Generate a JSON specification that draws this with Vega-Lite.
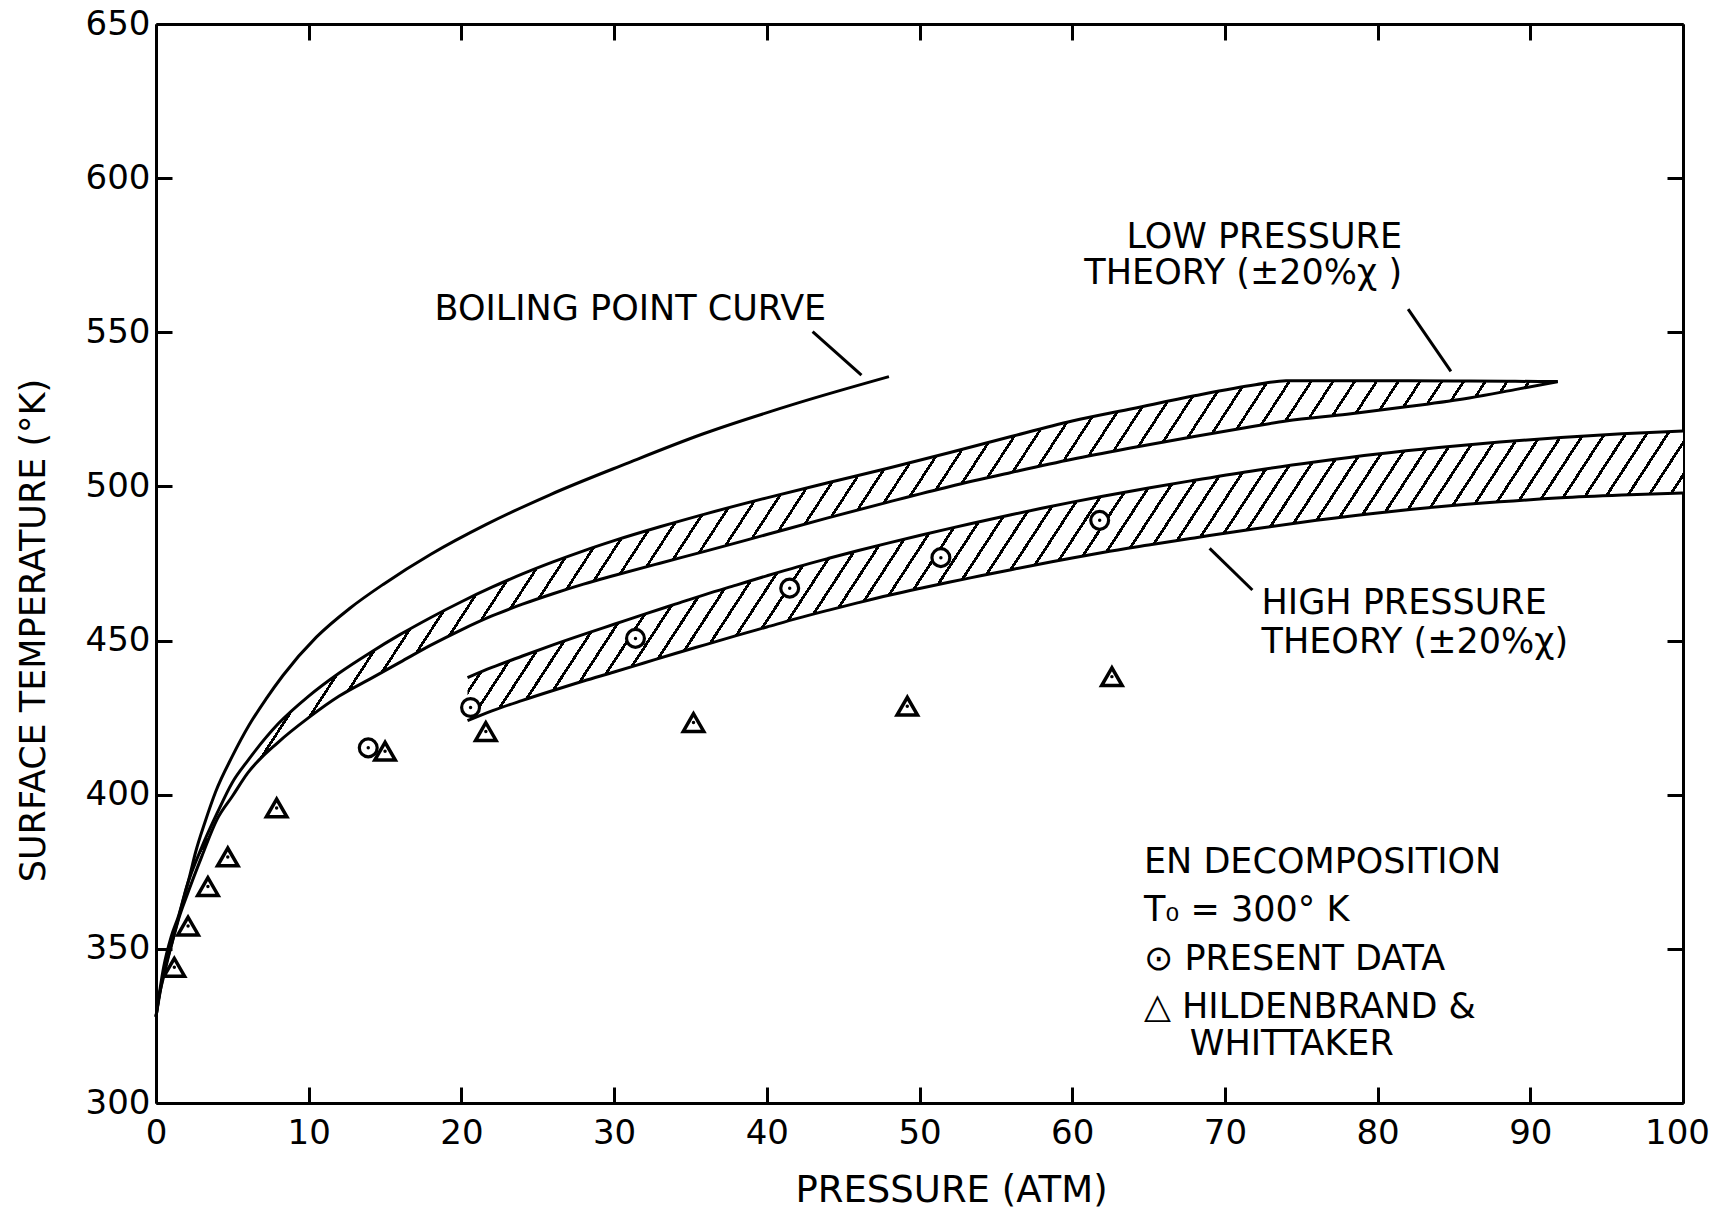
{
"$schema":"https://vega.github.io/schema/vega-lite/v6.json",
"width":1527,"height":1079,
"autosize":{"type":"none"},
"padding":{"left":156,"top":24,"right":29,"bottom":111},
"background":"#ffffff",
"config":{"view":{"stroke":null},"font":"DejaVu Sans"},
"datasets":{
"boil":[{"p":0,"t":328},{"p":0.2,"t":334.6},{"p":0.5,"t":341},{"p":0.8,"t":347.2},{"p":1.2,"t":355},{"p":1.7,"t":364.3},{"p":2.2,"t":373.5},{"p":2.6,"t":381.5},{"p":3.2,"t":391},{"p":3.9,"t":400.9},{"p":5,"t":412.5},{"p":6.1,"t":422.6},{"p":7.2,"t":431},{"p":8.3,"t":438.6},{"p":10.5,"t":451.1},{"p":12.7,"t":460.5},{"p":14.9,"t":468.3},{"p":18,"t":478},{"p":21.6,"t":487.6},{"p":25.8,"t":497.3},{"p":30.8,"t":507.4},{"p":35.8,"t":517},{"p":42,"t":527},{"p":48,"t":535.6}],
"low":[{"p":0,"hi":328,"lo":328},{"p":0.5,"hi":344,"lo":342},{"p":1,"hi":354,"lo":351},{"p":1.5,"hi":361,"lo":360},{"p":2,"hi":370,"lo":367},{"p":3,"hi":383,"lo":380},{"p":4,"hi":394,"lo":392},{"p":5,"hi":404,"lo":399.5},{"p":6,"hi":411,"lo":407},{"p":8,"hi":423,"lo":417},{"p":10,"hi":432,"lo":425},{"p":12,"hi":439.5,"lo":432},{"p":14,"hi":446,"lo":437.5},{"p":16,"hi":452,"lo":443},{"p":18,"hi":457.5,"lo":448.5},{"p":20,"hi":462.6,"lo":453.5},{"p":22,"hi":467.3,"lo":458},{"p":24,"hi":471.6,"lo":461.8},{"p":26,"hi":475.5,"lo":465.2},{"p":28,"hi":479.1,"lo":468.3},{"p":30,"hi":482.4,"lo":471.1},{"p":33,"hi":486.9,"lo":475.1},{"p":36,"hi":491.1,"lo":479},{"p":40,"hi":496.3,"lo":484.4},{"p":44,"hi":501.2,"lo":489.8},{"p":48,"hi":506,"lo":495},{"p":52,"hi":511,"lo":500},{"p":56,"hi":516.2,"lo":504.5},{"p":60,"hi":521.2,"lo":508.8},{"p":64,"hi":525.3,"lo":512.6},{"p":68,"hi":529.4,"lo":516.2},{"p":72,"hi":533,"lo":519.6},{"p":74,"hi":534.3,"lo":521.2},{"p":78,"hi":534.3,"lo":523.4},{"p":82,"hi":534.3,"lo":525.9},{"p":86,"hi":534.2,"lo":528.7},{"p":89,"hi":534.1,"lo":531.4},{"p":91.8,"hi":534,"lo":534}],
"high":[{"p":20.4,"hi":438,"lo":424},{"p":22,"hi":441.3,"lo":427.2},{"p":24,"hi":445,"lo":430.6},{"p":26,"hi":448.6,"lo":433.8},{"p":28,"hi":452,"lo":436.9},{"p":30,"hi":455.3,"lo":439.8},{"p":32,"hi":458.6,"lo":442.8},{"p":34,"hi":461.8,"lo":445.8},{"p":36,"hi":465,"lo":448.7},{"p":38,"hi":468,"lo":451.6},{"p":40,"hi":471,"lo":454.4},{"p":42,"hi":473.9,"lo":457.2},{"p":44,"hi":476.6,"lo":459.8},{"p":46,"hi":479.2,"lo":462.3},{"p":48,"hi":481.7,"lo":464.7},{"p":50,"hi":484.1,"lo":466.9},{"p":52,"hi":486.4,"lo":469},{"p":54,"hi":488.6,"lo":471},{"p":56,"hi":490.8,"lo":473},{"p":58,"hi":492.9,"lo":474.9},{"p":60,"hi":494.9,"lo":476.8},{"p":62,"hi":496.8,"lo":478.6},{"p":65,"hi":499.5,"lo":481},{"p":68,"hi":502,"lo":483.3},{"p":72,"hi":505.2,"lo":486.3},{"p":76,"hi":508,"lo":489},{"p":80,"hi":510.5,"lo":491.4},{"p":84,"hi":512.6,"lo":493.4},{"p":88,"hi":514.4,"lo":495},{"p":92,"hi":515.9,"lo":496.3},{"p":96,"hi":517.1,"lo":497.2},{"p":100,"hi":518,"lo":497.9}],
"present":[{"p":13.9,"t":415.2},{"p":20.6,"t":428.3},{"p":31.4,"t":450.7},{"p":41.5,"t":467},{"p":51.4,"t":476.9},{"p":61.8,"t":489}],
"hw":[{"p":1.2,"t":344},{"p":2.1,"t":357.4},{"p":3.4,"t":370.2},{"p":4.7,"t":379.8},{"p":7.9,"t":395.7},{"p":15,"t":414.1},{"p":21.6,"t":420.5},{"p":35.2,"t":423.4},{"p":49.2,"t":428.7},{"p":62.6,"t":438.3}],
"leaders":[{"p":43,"t":550.2,"p2":46.2,"t2":536.1},{"p":82,"t":557.5,"p2":84.8,"t2":537.3},{"p":69,"t":479.9,"p2":71.8,"t2":466.4}],
"textLeft":[{"p":18.24,"t":557.6,"label":"BOILING POINT CURVE"},{"p":72.4,"t":462.3,"label":"HIGH PRESSURE"},{"p":72.4,"t":449.5,"label":"THEORY (±20%χ)"},{"p":64.7,"t":378.1,"label":"EN DECOMPOSITION"},{"p":64.7,"t":362.5,"label":"T₀ = 300° K"},{"p":64.7,"t":346.8,"label":"⊙ PRESENT DATA"},{"p":64.7,"t":331.1,"label":"△ HILDENBRAND &"},{"p":67.7,"t":319,"label":"WHITTAKER"}],
"textRight":[{"p":81.6,"t":580.9,"label":"LOW PRESSURE"},{"p":81.6,"t":569.2,"label":"THEORY (±20%χ )"}]
},
"layer":[
{"data":{"name":"low"},
 "mark":{"type":"area","interpolate":"monotone","stroke":null,"fill":{"gradient":"linear","x1":0,"y1":0,"x2":1.191,"y2":0.351,"stops":[
{"offset":0,"color":"#000"},{"offset":0.0018,"color":"#000"},{"offset":0.0018,"color":"#fff"},{"offset":0.012,"color":"#fff"},
{"offset":0.012,"color":"#000"},{"offset":0.0138,"color":"#000"},{"offset":0.0138,"color":"#fff"},{"offset":0.024,"color":"#fff"},
{"offset":0.024,"color":"#000"},{"offset":0.0258,"color":"#000"},{"offset":0.0258,"color":"#fff"},{"offset":0.036,"color":"#fff"},
{"offset":0.036,"color":"#000"},{"offset":0.0378,"color":"#000"},{"offset":0.0378,"color":"#fff"},{"offset":0.048,"color":"#fff"},
{"offset":0.048,"color":"#000"},{"offset":0.0498,"color":"#000"},{"offset":0.0498,"color":"#fff"},{"offset":0.06,"color":"#fff"},
{"offset":0.06,"color":"#000"},{"offset":0.0618,"color":"#000"},{"offset":0.0618,"color":"#fff"},{"offset":0.072,"color":"#fff"},
{"offset":0.072,"color":"#000"},{"offset":0.0738,"color":"#000"},{"offset":0.0738,"color":"#fff"},{"offset":0.084,"color":"#fff"},
{"offset":0.084,"color":"#000"},{"offset":0.0858,"color":"#000"},{"offset":0.0858,"color":"#fff"},{"offset":0.096,"color":"#fff"},
{"offset":0.096,"color":"#000"},{"offset":0.0978,"color":"#000"},{"offset":0.0978,"color":"#fff"},{"offset":0.108,"color":"#fff"},
{"offset":0.108,"color":"#000"},{"offset":0.1098,"color":"#000"},{"offset":0.1098,"color":"#fff"},{"offset":0.12,"color":"#fff"},
{"offset":0.12,"color":"#000"},{"offset":0.1218,"color":"#000"},{"offset":0.1218,"color":"#fff"},{"offset":0.132,"color":"#fff"},
{"offset":0.132,"color":"#000"},{"offset":0.1338,"color":"#000"},{"offset":0.1338,"color":"#fff"},{"offset":0.144,"color":"#fff"},
{"offset":0.144,"color":"#000"},{"offset":0.1458,"color":"#000"},{"offset":0.1458,"color":"#fff"},{"offset":0.156,"color":"#fff"},
{"offset":0.156,"color":"#000"},{"offset":0.1578,"color":"#000"},{"offset":0.1578,"color":"#fff"},{"offset":0.168,"color":"#fff"},
{"offset":0.168,"color":"#000"},{"offset":0.1698,"color":"#000"},{"offset":0.1698,"color":"#fff"},{"offset":0.18,"color":"#fff"},
{"offset":0.18,"color":"#000"},{"offset":0.1818,"color":"#000"},{"offset":0.1818,"color":"#fff"},{"offset":0.192,"color":"#fff"},
{"offset":0.192,"color":"#000"},{"offset":0.1938,"color":"#000"},{"offset":0.1938,"color":"#fff"},{"offset":0.204,"color":"#fff"},
{"offset":0.204,"color":"#000"},{"offset":0.2058,"color":"#000"},{"offset":0.2058,"color":"#fff"},{"offset":0.216,"color":"#fff"},
{"offset":0.216,"color":"#000"},{"offset":0.2178,"color":"#000"},{"offset":0.2178,"color":"#fff"},{"offset":0.228,"color":"#fff"},
{"offset":0.228,"color":"#000"},{"offset":0.2298,"color":"#000"},{"offset":0.2298,"color":"#fff"},{"offset":0.24,"color":"#fff"},
{"offset":0.24,"color":"#000"},{"offset":0.2418,"color":"#000"},{"offset":0.2418,"color":"#fff"},{"offset":0.252,"color":"#fff"},
{"offset":0.252,"color":"#000"},{"offset":0.2538,"color":"#000"},{"offset":0.2538,"color":"#fff"},{"offset":0.264,"color":"#fff"},
{"offset":0.264,"color":"#000"},{"offset":0.2658,"color":"#000"},{"offset":0.2658,"color":"#fff"},{"offset":0.276,"color":"#fff"},
{"offset":0.276,"color":"#000"},{"offset":0.2778,"color":"#000"},{"offset":0.2778,"color":"#fff"},{"offset":0.288,"color":"#fff"},
{"offset":0.288,"color":"#000"},{"offset":0.2898,"color":"#000"},{"offset":0.2898,"color":"#fff"},{"offset":0.3,"color":"#fff"},
{"offset":0.3,"color":"#000"},{"offset":0.3018,"color":"#000"},{"offset":0.3018,"color":"#fff"},{"offset":0.312,"color":"#fff"},
{"offset":0.312,"color":"#000"},{"offset":0.3138,"color":"#000"},{"offset":0.3138,"color":"#fff"},{"offset":0.324,"color":"#fff"},
{"offset":0.324,"color":"#000"},{"offset":0.3258,"color":"#000"},{"offset":0.3258,"color":"#fff"},{"offset":0.336,"color":"#fff"},
{"offset":0.336,"color":"#000"},{"offset":0.3378,"color":"#000"},{"offset":0.3378,"color":"#fff"},{"offset":0.348,"color":"#fff"},
{"offset":0.348,"color":"#000"},{"offset":0.3498,"color":"#000"},{"offset":0.3498,"color":"#fff"},{"offset":0.36,"color":"#fff"},
{"offset":0.36,"color":"#000"},{"offset":0.3618,"color":"#000"},{"offset":0.3618,"color":"#fff"},{"offset":0.372,"color":"#fff"},
{"offset":0.372,"color":"#000"},{"offset":0.3738,"color":"#000"},{"offset":0.3738,"color":"#fff"},{"offset":0.384,"color":"#fff"},
{"offset":0.384,"color":"#000"},{"offset":0.3858,"color":"#000"},{"offset":0.3858,"color":"#fff"},{"offset":0.396,"color":"#fff"},
{"offset":0.396,"color":"#000"},{"offset":0.3978,"color":"#000"},{"offset":0.3978,"color":"#fff"},{"offset":0.408,"color":"#fff"},
{"offset":0.408,"color":"#000"},{"offset":0.4098,"color":"#000"},{"offset":0.4098,"color":"#fff"},{"offset":0.42,"color":"#fff"},
{"offset":0.42,"color":"#000"},{"offset":0.4218,"color":"#000"},{"offset":0.4218,"color":"#fff"},{"offset":0.432,"color":"#fff"},
{"offset":0.432,"color":"#000"},{"offset":0.4338,"color":"#000"},{"offset":0.4338,"color":"#fff"},{"offset":0.444,"color":"#fff"},
{"offset":0.444,"color":"#000"},{"offset":0.4458,"color":"#000"},{"offset":0.4458,"color":"#fff"},{"offset":0.456,"color":"#fff"},
{"offset":0.456,"color":"#000"},{"offset":0.4578,"color":"#000"},{"offset":0.4578,"color":"#fff"},{"offset":0.468,"color":"#fff"},
{"offset":0.468,"color":"#000"},{"offset":0.4698,"color":"#000"},{"offset":0.4698,"color":"#fff"},{"offset":0.48,"color":"#fff"},
{"offset":0.48,"color":"#000"},{"offset":0.4818,"color":"#000"},{"offset":0.4818,"color":"#fff"},{"offset":0.492,"color":"#fff"},
{"offset":0.492,"color":"#000"},{"offset":0.4938,"color":"#000"},{"offset":0.4938,"color":"#fff"},{"offset":0.504,"color":"#fff"},
{"offset":0.504,"color":"#000"},{"offset":0.5058,"color":"#000"},{"offset":0.5058,"color":"#fff"},{"offset":0.516,"color":"#fff"},
{"offset":0.516,"color":"#000"},{"offset":0.5178,"color":"#000"},{"offset":0.5178,"color":"#fff"},{"offset":0.528,"color":"#fff"},
{"offset":0.528,"color":"#000"},{"offset":0.5298,"color":"#000"},{"offset":0.5298,"color":"#fff"},{"offset":0.54,"color":"#fff"},
{"offset":0.54,"color":"#000"},{"offset":0.5418,"color":"#000"},{"offset":0.5418,"color":"#fff"},{"offset":0.552,"color":"#fff"},
{"offset":0.552,"color":"#000"},{"offset":0.5538,"color":"#000"},{"offset":0.5538,"color":"#fff"},{"offset":0.564,"color":"#fff"},
{"offset":0.564,"color":"#000"},{"offset":0.5658,"color":"#000"},{"offset":0.5658,"color":"#fff"},{"offset":0.576,"color":"#fff"},
{"offset":0.576,"color":"#000"},{"offset":0.5778,"color":"#000"},{"offset":0.5778,"color":"#fff"},{"offset":0.588,"color":"#fff"},
{"offset":0.588,"color":"#000"},{"offset":0.5898,"color":"#000"},{"offset":0.5898,"color":"#fff"},{"offset":0.6,"color":"#fff"},
{"offset":0.6,"color":"#000"},{"offset":0.6018,"color":"#000"},{"offset":0.6018,"color":"#fff"},{"offset":0.612,"color":"#fff"},
{"offset":0.612,"color":"#000"},{"offset":0.6138,"color":"#000"},{"offset":0.6138,"color":"#fff"},{"offset":0.624,"color":"#fff"},
{"offset":0.624,"color":"#000"},{"offset":0.6258,"color":"#000"},{"offset":0.6258,"color":"#fff"},{"offset":0.636,"color":"#fff"},
{"offset":0.636,"color":"#000"},{"offset":0.6378,"color":"#000"},{"offset":0.6378,"color":"#fff"},{"offset":0.648,"color":"#fff"},
{"offset":0.648,"color":"#000"},{"offset":0.6498,"color":"#000"},{"offset":0.6498,"color":"#fff"},{"offset":0.66,"color":"#fff"},
{"offset":0.66,"color":"#000"},{"offset":0.6618,"color":"#000"},{"offset":0.6618,"color":"#fff"},{"offset":0.672,"color":"#fff"},
{"offset":0.672,"color":"#000"},{"offset":0.6738,"color":"#000"},{"offset":0.6738,"color":"#fff"},{"offset":0.684,"color":"#fff"},
{"offset":0.684,"color":"#000"},{"offset":0.6858,"color":"#000"},{"offset":0.6858,"color":"#fff"},{"offset":0.696,"color":"#fff"},
{"offset":0.696,"color":"#000"},{"offset":0.6978,"color":"#000"},{"offset":0.6978,"color":"#fff"},{"offset":0.708,"color":"#fff"},
{"offset":0.708,"color":"#000"},{"offset":0.7098,"color":"#000"},{"offset":0.7098,"color":"#fff"},{"offset":0.72,"color":"#fff"},
{"offset":0.72,"color":"#000"},{"offset":0.7218,"color":"#000"},{"offset":0.7218,"color":"#fff"},{"offset":0.732,"color":"#fff"},
{"offset":0.732,"color":"#000"},{"offset":0.7338,"color":"#000"},{"offset":0.7338,"color":"#fff"},{"offset":0.744,"color":"#fff"},
{"offset":0.744,"color":"#000"},{"offset":0.7458,"color":"#000"},{"offset":0.7458,"color":"#fff"},{"offset":0.756,"color":"#fff"},
{"offset":0.756,"color":"#000"},{"offset":0.7578,"color":"#000"},{"offset":0.7578,"color":"#fff"},{"offset":0.768,"color":"#fff"},
{"offset":0.768,"color":"#000"},{"offset":0.7698,"color":"#000"},{"offset":0.7698,"color":"#fff"},{"offset":0.78,"color":"#fff"},
{"offset":0.78,"color":"#000"},{"offset":0.7818,"color":"#000"},{"offset":0.7818,"color":"#fff"},{"offset":0.792,"color":"#fff"},
{"offset":0.792,"color":"#000"},{"offset":0.7938,"color":"#000"},{"offset":0.7938,"color":"#fff"},{"offset":0.804,"color":"#fff"},
{"offset":0.804,"color":"#000"},{"offset":0.8058,"color":"#000"},{"offset":0.8058,"color":"#fff"},{"offset":0.816,"color":"#fff"},
{"offset":0.816,"color":"#000"},{"offset":0.8178,"color":"#000"},{"offset":0.8178,"color":"#fff"},{"offset":0.828,"color":"#fff"},
{"offset":0.828,"color":"#000"},{"offset":0.8298,"color":"#000"},{"offset":0.8298,"color":"#fff"},{"offset":0.84,"color":"#fff"},
{"offset":0.84,"color":"#000"},{"offset":0.8418,"color":"#000"},{"offset":0.8418,"color":"#fff"},{"offset":0.852,"color":"#fff"},
{"offset":0.852,"color":"#000"},{"offset":0.8538,"color":"#000"},{"offset":0.8538,"color":"#fff"},{"offset":0.864,"color":"#fff"},
{"offset":0.864,"color":"#000"},{"offset":0.8658,"color":"#000"},{"offset":0.8658,"color":"#fff"},{"offset":0.876,"color":"#fff"},
{"offset":0.876,"color":"#000"},{"offset":0.8778,"color":"#000"},{"offset":0.8778,"color":"#fff"},{"offset":0.888,"color":"#fff"},
{"offset":0.888,"color":"#000"},{"offset":0.8898,"color":"#000"},{"offset":0.8898,"color":"#fff"},{"offset":0.9,"color":"#fff"},
{"offset":0.9,"color":"#000"},{"offset":0.9018,"color":"#000"},{"offset":0.9018,"color":"#fff"},{"offset":0.912,"color":"#fff"},
{"offset":0.912,"color":"#000"},{"offset":0.9138,"color":"#000"},{"offset":0.9138,"color":"#fff"},{"offset":0.924,"color":"#fff"},
{"offset":0.924,"color":"#000"},{"offset":0.9258,"color":"#000"},{"offset":0.9258,"color":"#fff"},{"offset":0.936,"color":"#fff"},
{"offset":0.936,"color":"#000"},{"offset":0.9378,"color":"#000"},{"offset":0.9378,"color":"#fff"},{"offset":0.948,"color":"#fff"},
{"offset":0.948,"color":"#000"},{"offset":0.9498,"color":"#000"},{"offset":0.9498,"color":"#fff"},{"offset":0.96,"color":"#fff"},
{"offset":0.96,"color":"#000"},{"offset":0.9618,"color":"#000"},{"offset":0.9618,"color":"#fff"},{"offset":0.972,"color":"#fff"},
{"offset":0.972,"color":"#000"},{"offset":0.9738,"color":"#000"},{"offset":0.9738,"color":"#fff"},{"offset":0.984,"color":"#fff"},
{"offset":0.984,"color":"#000"},{"offset":0.9858,"color":"#000"},{"offset":0.9858,"color":"#fff"},{"offset":0.996,"color":"#fff"},
{"offset":0.996,"color":"#000"},{"offset":0.9978,"color":"#000"},{"offset":0.9978,"color":"#fff"},{"offset":1,"color":"#fff"}
]}},
 "encoding":{
  "x":{"field":"p","type":"quantitative","scale":{"domain":[0,100],"nice":false,"zero":false},
   "axis":{"orient":"bottom","values":[0,10,20,30,40,50,60,70,80,90,100],"tickSize":-16,"tickWidth":3,"tickColor":"#000","domainColor":"#000","domainWidth":3,"labelFont":"DejaVu Sans","labelFontSize":34,"labelColor":"#000","labelPadding":46,"labelBaseline":"middle","labelOffset":{"condition":{"test":"datum.value == 100","value":-6},"value":0},"labelFlush":false,"labelOverlap":false,"labelBound":false,"grid":false,"title":"PRESSURE (ATM)","titleFont":"DejaVu Sans","titleFontSize":37,"titleFontWeight":"normal","titleColor":"#000","titleX":795,"titleY":87,"titleBaseline":"middle","titleAlign":"center"}},
  "y":{"field":"hi","type":"quantitative","scale":{"domain":[300,650],"nice":false,"zero":false},
   "axis":{"orient":"left","values":[300,350,400,450,500,550,600,650],"tickSize":-16,"tickWidth":3,"tickColor":"#000","domainColor":"#000","domainWidth":3,"labelFont":"DejaVu Sans","labelFontSize":34,"labelColor":"#000","labelPadding":22,"labelAlign":"right","labelBaseline":"middle","labelFlush":false,"labelOverlap":false,"labelBound":false,"grid":false,"title":"SURFACE TEMPERATURE (°K)","titleFont":"DejaVu Sans","titleFontSize":35,"titleFontWeight":"normal","titleColor":"#000","titleX":-123,"titleY":606,"titleAngle":-90,"titleBaseline":"middle","titleAlign":"center"}},
  "y2":{"field":"lo"}
 }},
{"data":{"name":"high"},
 "mark":{"type":"area","interpolate":"monotone","stroke":null,"fill":{"gradient":"linear","x1":0,"y1":0,"x2":1.128,"y2":0.175,"stops":[
{"offset":0,"color":"#000"},{"offset":0.0024,"color":"#000"},{"offset":0.0024,"color":"#fff"},{"offset":0.015,"color":"#fff"},
{"offset":0.015,"color":"#000"},{"offset":0.0174,"color":"#000"},{"offset":0.0174,"color":"#fff"},{"offset":0.03,"color":"#fff"},
{"offset":0.03,"color":"#000"},{"offset":0.0324,"color":"#000"},{"offset":0.0324,"color":"#fff"},{"offset":0.045,"color":"#fff"},
{"offset":0.045,"color":"#000"},{"offset":0.0474,"color":"#000"},{"offset":0.0474,"color":"#fff"},{"offset":0.06,"color":"#fff"},
{"offset":0.06,"color":"#000"},{"offset":0.0624,"color":"#000"},{"offset":0.0624,"color":"#fff"},{"offset":0.075,"color":"#fff"},
{"offset":0.075,"color":"#000"},{"offset":0.0774,"color":"#000"},{"offset":0.0774,"color":"#fff"},{"offset":0.09,"color":"#fff"},
{"offset":0.09,"color":"#000"},{"offset":0.0924,"color":"#000"},{"offset":0.0924,"color":"#fff"},{"offset":0.105,"color":"#fff"},
{"offset":0.105,"color":"#000"},{"offset":0.1074,"color":"#000"},{"offset":0.1074,"color":"#fff"},{"offset":0.12,"color":"#fff"},
{"offset":0.12,"color":"#000"},{"offset":0.1224,"color":"#000"},{"offset":0.1224,"color":"#fff"},{"offset":0.135,"color":"#fff"},
{"offset":0.135,"color":"#000"},{"offset":0.1374,"color":"#000"},{"offset":0.1374,"color":"#fff"},{"offset":0.15,"color":"#fff"},
{"offset":0.15,"color":"#000"},{"offset":0.1524,"color":"#000"},{"offset":0.1524,"color":"#fff"},{"offset":0.165,"color":"#fff"},
{"offset":0.165,"color":"#000"},{"offset":0.1674,"color":"#000"},{"offset":0.1674,"color":"#fff"},{"offset":0.18,"color":"#fff"},
{"offset":0.18,"color":"#000"},{"offset":0.1824,"color":"#000"},{"offset":0.1824,"color":"#fff"},{"offset":0.195,"color":"#fff"},
{"offset":0.195,"color":"#000"},{"offset":0.1974,"color":"#000"},{"offset":0.1974,"color":"#fff"},{"offset":0.21,"color":"#fff"},
{"offset":0.21,"color":"#000"},{"offset":0.2124,"color":"#000"},{"offset":0.2124,"color":"#fff"},{"offset":0.225,"color":"#fff"},
{"offset":0.225,"color":"#000"},{"offset":0.2274,"color":"#000"},{"offset":0.2274,"color":"#fff"},{"offset":0.24,"color":"#fff"},
{"offset":0.24,"color":"#000"},{"offset":0.2424,"color":"#000"},{"offset":0.2424,"color":"#fff"},{"offset":0.255,"color":"#fff"},
{"offset":0.255,"color":"#000"},{"offset":0.2574,"color":"#000"},{"offset":0.2574,"color":"#fff"},{"offset":0.27,"color":"#fff"},
{"offset":0.27,"color":"#000"},{"offset":0.2724,"color":"#000"},{"offset":0.2724,"color":"#fff"},{"offset":0.285,"color":"#fff"},
{"offset":0.285,"color":"#000"},{"offset":0.2874,"color":"#000"},{"offset":0.2874,"color":"#fff"},{"offset":0.3,"color":"#fff"},
{"offset":0.3,"color":"#000"},{"offset":0.3024,"color":"#000"},{"offset":0.3024,"color":"#fff"},{"offset":0.315,"color":"#fff"},
{"offset":0.315,"color":"#000"},{"offset":0.3174,"color":"#000"},{"offset":0.3174,"color":"#fff"},{"offset":0.33,"color":"#fff"},
{"offset":0.33,"color":"#000"},{"offset":0.3324,"color":"#000"},{"offset":0.3324,"color":"#fff"},{"offset":0.345,"color":"#fff"},
{"offset":0.345,"color":"#000"},{"offset":0.3474,"color":"#000"},{"offset":0.3474,"color":"#fff"},{"offset":0.36,"color":"#fff"},
{"offset":0.36,"color":"#000"},{"offset":0.3624,"color":"#000"},{"offset":0.3624,"color":"#fff"},{"offset":0.375,"color":"#fff"},
{"offset":0.375,"color":"#000"},{"offset":0.3774,"color":"#000"},{"offset":0.3774,"color":"#fff"},{"offset":0.39,"color":"#fff"},
{"offset":0.39,"color":"#000"},{"offset":0.3924,"color":"#000"},{"offset":0.3924,"color":"#fff"},{"offset":0.405,"color":"#fff"},
{"offset":0.405,"color":"#000"},{"offset":0.4074,"color":"#000"},{"offset":0.4074,"color":"#fff"},{"offset":0.42,"color":"#fff"},
{"offset":0.42,"color":"#000"},{"offset":0.4224,"color":"#000"},{"offset":0.4224,"color":"#fff"},{"offset":0.435,"color":"#fff"},
{"offset":0.435,"color":"#000"},{"offset":0.4374,"color":"#000"},{"offset":0.4374,"color":"#fff"},{"offset":0.45,"color":"#fff"},
{"offset":0.45,"color":"#000"},{"offset":0.4524,"color":"#000"},{"offset":0.4524,"color":"#fff"},{"offset":0.465,"color":"#fff"},
{"offset":0.465,"color":"#000"},{"offset":0.4674,"color":"#000"},{"offset":0.4674,"color":"#fff"},{"offset":0.48,"color":"#fff"},
{"offset":0.48,"color":"#000"},{"offset":0.4824,"color":"#000"},{"offset":0.4824,"color":"#fff"},{"offset":0.495,"color":"#fff"},
{"offset":0.495,"color":"#000"},{"offset":0.4974,"color":"#000"},{"offset":0.4974,"color":"#fff"},{"offset":0.51,"color":"#fff"},
{"offset":0.51,"color":"#000"},{"offset":0.5124,"color":"#000"},{"offset":0.5124,"color":"#fff"},{"offset":0.525,"color":"#fff"},
{"offset":0.525,"color":"#000"},{"offset":0.5274,"color":"#000"},{"offset":0.5274,"color":"#fff"},{"offset":0.54,"color":"#fff"},
{"offset":0.54,"color":"#000"},{"offset":0.5424,"color":"#000"},{"offset":0.5424,"color":"#fff"},{"offset":0.555,"color":"#fff"},
{"offset":0.555,"color":"#000"},{"offset":0.5574,"color":"#000"},{"offset":0.5574,"color":"#fff"},{"offset":0.57,"color":"#fff"},
{"offset":0.57,"color":"#000"},{"offset":0.5724,"color":"#000"},{"offset":0.5724,"color":"#fff"},{"offset":0.585,"color":"#fff"},
{"offset":0.585,"color":"#000"},{"offset":0.5874,"color":"#000"},{"offset":0.5874,"color":"#fff"},{"offset":0.6,"color":"#fff"},
{"offset":0.6,"color":"#000"},{"offset":0.6024,"color":"#000"},{"offset":0.6024,"color":"#fff"},{"offset":0.615,"color":"#fff"},
{"offset":0.615,"color":"#000"},{"offset":0.6174,"color":"#000"},{"offset":0.6174,"color":"#fff"},{"offset":0.63,"color":"#fff"},
{"offset":0.63,"color":"#000"},{"offset":0.6324,"color":"#000"},{"offset":0.6324,"color":"#fff"},{"offset":0.645,"color":"#fff"},
{"offset":0.645,"color":"#000"},{"offset":0.6474,"color":"#000"},{"offset":0.6474,"color":"#fff"},{"offset":0.66,"color":"#fff"},
{"offset":0.66,"color":"#000"},{"offset":0.6624,"color":"#000"},{"offset":0.6624,"color":"#fff"},{"offset":0.675,"color":"#fff"},
{"offset":0.675,"color":"#000"},{"offset":0.6774,"color":"#000"},{"offset":0.6774,"color":"#fff"},{"offset":0.69,"color":"#fff"},
{"offset":0.69,"color":"#000"},{"offset":0.6924,"color":"#000"},{"offset":0.6924,"color":"#fff"},{"offset":0.705,"color":"#fff"},
{"offset":0.705,"color":"#000"},{"offset":0.7074,"color":"#000"},{"offset":0.7074,"color":"#fff"},{"offset":0.72,"color":"#fff"},
{"offset":0.72,"color":"#000"},{"offset":0.7224,"color":"#000"},{"offset":0.7224,"color":"#fff"},{"offset":0.735,"color":"#fff"},
{"offset":0.735,"color":"#000"},{"offset":0.7374,"color":"#000"},{"offset":0.7374,"color":"#fff"},{"offset":0.75,"color":"#fff"},
{"offset":0.75,"color":"#000"},{"offset":0.7524,"color":"#000"},{"offset":0.7524,"color":"#fff"},{"offset":0.765,"color":"#fff"},
{"offset":0.765,"color":"#000"},{"offset":0.7674,"color":"#000"},{"offset":0.7674,"color":"#fff"},{"offset":0.78,"color":"#fff"},
{"offset":0.78,"color":"#000"},{"offset":0.7824,"color":"#000"},{"offset":0.7824,"color":"#fff"},{"offset":0.795,"color":"#fff"},
{"offset":0.795,"color":"#000"},{"offset":0.7974,"color":"#000"},{"offset":0.7974,"color":"#fff"},{"offset":0.81,"color":"#fff"},
{"offset":0.81,"color":"#000"},{"offset":0.8124,"color":"#000"},{"offset":0.8124,"color":"#fff"},{"offset":0.825,"color":"#fff"},
{"offset":0.825,"color":"#000"},{"offset":0.8274,"color":"#000"},{"offset":0.8274,"color":"#fff"},{"offset":0.84,"color":"#fff"},
{"offset":0.84,"color":"#000"},{"offset":0.8424,"color":"#000"},{"offset":0.8424,"color":"#fff"},{"offset":0.855,"color":"#fff"},
{"offset":0.855,"color":"#000"},{"offset":0.8574,"color":"#000"},{"offset":0.8574,"color":"#fff"},{"offset":0.87,"color":"#fff"},
{"offset":0.87,"color":"#000"},{"offset":0.8724,"color":"#000"},{"offset":0.8724,"color":"#fff"},{"offset":0.885,"color":"#fff"},
{"offset":0.885,"color":"#000"},{"offset":0.8874,"color":"#000"},{"offset":0.8874,"color":"#fff"},{"offset":0.9,"color":"#fff"},
{"offset":0.9,"color":"#000"},{"offset":0.9024,"color":"#000"},{"offset":0.9024,"color":"#fff"},{"offset":0.915,"color":"#fff"},
{"offset":0.915,"color":"#000"},{"offset":0.9174,"color":"#000"},{"offset":0.9174,"color":"#fff"},{"offset":0.93,"color":"#fff"},
{"offset":0.93,"color":"#000"},{"offset":0.9324,"color":"#000"},{"offset":0.9324,"color":"#fff"},{"offset":0.945,"color":"#fff"},
{"offset":0.945,"color":"#000"},{"offset":0.9474,"color":"#000"},{"offset":0.9474,"color":"#fff"},{"offset":0.96,"color":"#fff"},
{"offset":0.96,"color":"#000"},{"offset":0.9624,"color":"#000"},{"offset":0.9624,"color":"#fff"},{"offset":0.975,"color":"#fff"},
{"offset":0.975,"color":"#000"},{"offset":0.9774,"color":"#000"},{"offset":0.9774,"color":"#fff"},{"offset":0.99,"color":"#fff"},
{"offset":0.99,"color":"#000"},{"offset":0.9924,"color":"#000"},{"offset":0.9924,"color":"#fff"},{"offset":1,"color":"#fff"}
]}},
 "encoding":{
  "x":{"field":"p","type":"quantitative",
   "axis":{"orient":"top","values":[0,10,20,30,40,50,60,70,80,90,100],"tickSize":-16,"tickWidth":3,"tickColor":"#000","domainColor":"#000","domainWidth":3,"labels":false,"grid":false,"title":null}},
  "y":{"field":"hi","type":"quantitative",
   "axis":{"orient":"right","values":[300,350,400,450,500,550,600,650],"tickSize":-16,"tickWidth":3,"tickColor":"#000","domainColor":"#000","domainWidth":3,"labels":false,"grid":false,"title":null}},
  "y2":{"field":"lo"}
 }},
{"data":{"name":"low"},"mark":{"type":"line","interpolate":"monotone","color":"#000","strokeWidth":3},
 "encoding":{"x":{"field":"p","type":"quantitative","axis":null},"y":{"field":"hi","type":"quantitative","axis":null}}},
{"data":{"name":"low"},"mark":{"type":"line","interpolate":"monotone","color":"#000","strokeWidth":3},
 "encoding":{"x":{"field":"p","type":"quantitative","axis":null},"y":{"field":"lo","type":"quantitative","axis":null}}},
{"data":{"name":"high"},"mark":{"type":"line","interpolate":"monotone","color":"#000","strokeWidth":3},
 "encoding":{"x":{"field":"p","type":"quantitative","axis":null},"y":{"field":"hi","type":"quantitative","axis":null}}},
{"data":{"name":"high"},"mark":{"type":"line","interpolate":"monotone","color":"#000","strokeWidth":3},
 "encoding":{"x":{"field":"p","type":"quantitative","axis":null},"y":{"field":"lo","type":"quantitative","axis":null}}},
{"data":{"name":"boil"},"mark":{"type":"line","interpolate":"monotone","color":"#000","strokeWidth":3},
 "encoding":{"x":{"field":"p","type":"quantitative","axis":null},"y":{"field":"t","type":"quantitative","axis":null}}},
{"data":{"name":"leaders"},"mark":{"type":"rule","color":"#000","strokeWidth":3},
 "encoding":{"x":{"field":"p","type":"quantitative","axis":null},"y":{"field":"t","type":"quantitative","axis":null},"x2":{"field":"p2"},"y2":{"field":"t2"}}},
{"data":{"name":"present"},"mark":{"type":"point","shape":"circle","size":320,"filled":true,"fill":"#fff","stroke":"#000","strokeWidth":3.2,"opacity":1},
 "encoding":{"x":{"field":"p","type":"quantitative","axis":null},"y":{"field":"t","type":"quantitative","axis":null}}},
{"data":{"name":"hw"},"mark":{"type":"point","shape":"triangle-up","size":420,"filled":true,"fill":"#fff","stroke":"#000","strokeWidth":3.5,"opacity":1},
 "encoding":{"x":{"field":"p","type":"quantitative","axis":null},"y":{"field":"t","type":"quantitative","axis":null}}},
{"data":{"name":"present"},"mark":{"type":"point","shape":"circle","size":12,"filled":true,"color":"#000","opacity":1},
 "encoding":{"x":{"field":"p","type":"quantitative","axis":null},"y":{"field":"t","type":"quantitative","axis":null}}},
{"data":{"name":"hw"},"mark":{"type":"point","shape":"circle","size":12,"filled":true,"color":"#000","opacity":1},
 "encoding":{"x":{"field":"p","type":"quantitative","axis":null},"y":{"field":"t","type":"quantitative","axis":null}}},
{"data":{"name":"textLeft"},"mark":{"type":"text","align":"left","baseline":"middle","font":"DejaVu Sans","fontSize":35,"color":"#000"},
 "encoding":{"x":{"field":"p","type":"quantitative","axis":null},"y":{"field":"t","type":"quantitative","axis":null},"text":{"field":"label"}}},
{"data":{"name":"textRight"},"mark":{"type":"text","align":"right","baseline":"middle","font":"DejaVu Sans","fontSize":35,"color":"#000"},
 "encoding":{"x":{"field":"p","type":"quantitative","axis":null},"y":{"field":"t","type":"quantitative","axis":null},"text":{"field":"label"}}}
],
"resolve":{"axis":{"x":"independent","y":"independent"}}
}
